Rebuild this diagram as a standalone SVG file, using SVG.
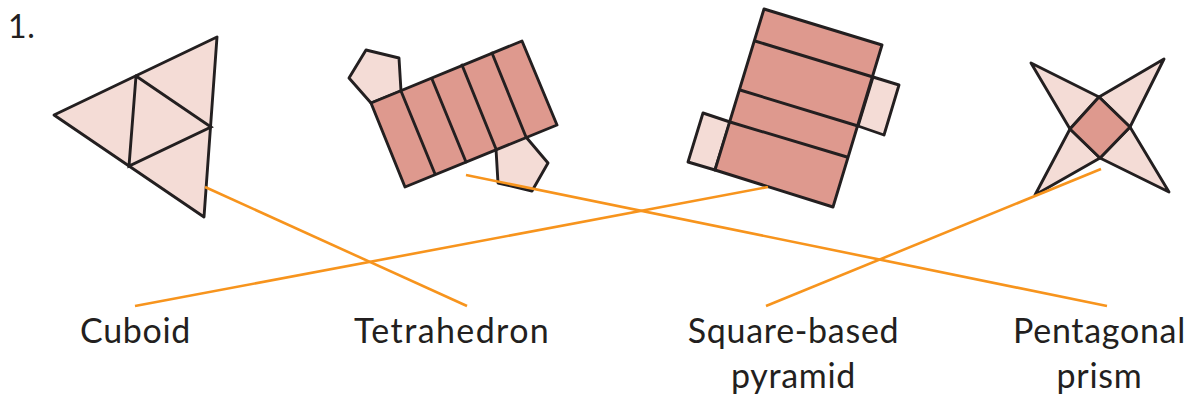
<svg xmlns="http://www.w3.org/2000/svg" width="1190" height="398" viewBox="0 0 1190 398">
<style>
.l{fill:#f4dcd6;stroke:#231f20;stroke-width:2.9;stroke-linejoin:round}
.d{fill:#de998e;stroke:#231f20;stroke-width:2.9;stroke-linejoin:round}
.s{fill:none;stroke:#231f20;stroke-width:2.9;stroke-linecap:round}
.c{fill:none;stroke:#f7941d;stroke-width:2.6}
text{font-family:"Lato","Noto Sans",sans-serif;font-size:34px;letter-spacing:.7px;fill:#231f20}
</style>
<rect width="1190" height="398" fill="#fff"/>
<text id="number" x="8" y="38" style="font-size:32px">1.</text>
<g id="net-tetrahedron">
<polygon class="l" points="54,115 217,37 204,217"/>
<polyline class="s" points="136,76 211,127 129,166 136,76"/>
</g>
<g id="net-pentagonal-prism">
<polygon class="l" points="371,103 349,78 366,50 399,58 401,91"/>
<polygon class="l" points="496,149 526,137 548,163 532,191 498,183"/>
<polygon class="d" points="371,103 522,41 557,125 405,187"/>
<path class="s" d="M401,91L435,174M432,79L466,162M462,65L496,149M492,53L526,137"/>
</g>
<g id="net-cuboid">
<polygon class="l" points="873,77 899,85 884,135 858,126"/>
<polygon class="l" points="730,122 703,113 688,162 715,170"/>
<polygon class="d" points="764,9 882,45 833,207 715,170"/>
<path class="s" d="M755,41L873,77M740,90L858,126M730,122L847,157"/>
</g>
<g id="net-square-pyramid">
<polygon class="l" points="1099,97 1031,63 1070,129"/>
<polygon class="l" points="1099,97 1164,59 1130,127"/>
<polygon class="l" points="1130,127 1169,192 1100,158"/>
<polygon class="l" points="1100,158 1035,195 1070,129"/>
<polygon class="d" points="1099,97 1130,127 1100,158 1070,129"/>
</g>
<g id="connectors">
<line class="c" x1="205" y1="187" x2="467" y2="306"/>
<line class="c" x1="466" y1="175" x2="1107" y2="306"/>
<line class="c" x1="768" y1="187" x2="135" y2="306"/>
<line class="c" x1="1101" y1="169" x2="766" y2="306"/>
</g>
<g id="label-cuboid"><text x="80" y="343">Cuboid</text></g>
<g id="label-tetrahedron"><text x="354" y="343" style="letter-spacing:1.4px">Tetrahedron</text></g>
<g id="label-square-pyramid"><text x="793.5" y="343" text-anchor="middle">Square-based</text><text x="793.5" y="388" text-anchor="middle">pyramid</text></g>
<g id="label-pentagonal-prism"><text x="1099.5" y="343" text-anchor="middle">Pentagonal</text><text x="1099.5" y="388" text-anchor="middle">prism</text></g>
</svg>
